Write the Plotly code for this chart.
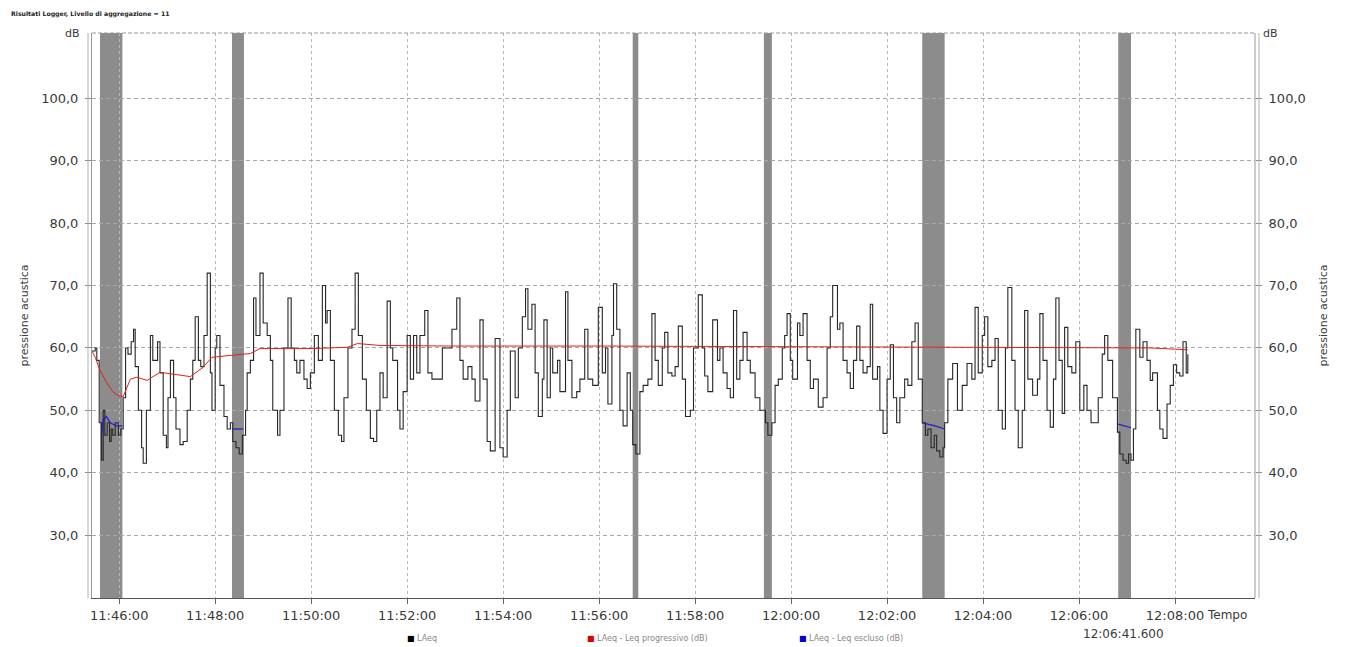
import pandas as pd
import plotly.graph_objects as go

# ---------------- data ----------------
BASE = "2000-01-01 11:46:00"

# black series: seconds from 11:46:00, LAeq (dB)
laeq_t = [-34, -30, -28, -25, -22, -20, -18, -15, -12, -10, -8, -5, -1, 2, 5, 8, 11, 15, 18, 20,
          24, 28, 30, 34, 39, 42, 48, 51, 55, 59, 61, 64, 68, 71, 76, 80, 85, 89, 92, 95,
          99, 102, 106, 110, 114, 116, 120, 122, 126, 131, 135, 139, 142, 146, 150, 154, 158, 160, 164, 168,
          171, 176, 180, 185, 189, 192, 198, 201, 206, 211, 215, 219, 222, 226, 231, 235, 239, 244, 249, 254,
          258, 260, 264, 269, 274, 278, 281, 286, 291, 295, 299, 304, 309, 314, 318, 322, 326, 330, 335, 339,
          342, 348, 351, 355, 360, 364, 368, 372, 376, 382, 386, 391, 398, 404, 410, 416, 422, 426, 430, 436,
          441, 445, 451, 455, 460, 464, 470, 476, 480, 485, 489, 495, 499, 504, 508, 511, 516, 520, 524, 529,
          531, 535, 539, 542, 548, 551, 558, 561, 566, 572, 576, 582, 586, 592, 599, 604, 608, 611, 616, 618,
          622, 626, 630, 635, 639, 642, 646, 651, 655, 661, 666, 670, 674, 679, 682, 686, 691, 695, 699, 704,
          708, 714, 718, 724, 729, 732, 736, 742, 748, 751, 755, 760, 764, 768, 772, 776, 780, 785, 789, 795,
          801, 808, 811, 816, 820, 824, 829, 832, 835, 839, 842, 848, 851, 855, 860, 864, 868, 874, 880, 885,
          889, 892, 898, 901, 905, 910, 914, 918, 922, 926, 930, 935, 939, 942, 948, 951, 955, 960, 964, 968,
          972, 976, 982, 986, 991, 995, 999, 1004, 1008, 1011, 1015, 1019, 1022, 1026, 1030, 1032, 1036, 1042, 1048, 1054,
          1060, 1066, 1070, 1074, 1079, 1082, 1086, 1091, 1095, 1099, 1104, 1108, 1111, 1116, 1120, 1124, 1129, 1132, 1136, 1142,
          1148, 1151, 1155, 1160, 1164, 1168, 1171, 1175, 1179, 1182, 1186, 1191, 1196, 1201, 1206, 1210, 1215, 1220, 1224, 1229,
          1232, 1236, 1242, 1248, 1251, 1255, 1259, 1262, 1265, 1268, 1271, 1276, 1280, 1285, 1289, 1292, 1298, 1301, 1305, 1310,
          1314, 1318, 1322, 1326, 1330, 1334, 1336]
laeq_db = [59.5, 60, 58, 48, 42, 50, 46, 48, 45, 47, 46, 48, 46, 47, 52, 60, 59, 61, 63, 57,
           50, 44, 41.5, 50, 62, 58, 61, 56, 46, 44, 52, 58, 52, 47, 44.5, 45, 50, 55, 58, 65,
           58, 57, 62, 72, 56, 50, 60, 62, 54, 49, 47, 48, 45, 44, 43, 46, 50, 56, 58, 68,
           62, 72, 64, 62, 58, 50, 46, 50, 60, 68, 60, 58, 56, 58, 55, 53.5, 56, 62, 58, 70,
           64, 66, 58, 50, 46, 45, 52, 60, 63, 72, 62, 55, 50, 45.5, 45, 50, 56, 52, 67.5, 60,
           58, 50, 47, 53, 62, 55, 62, 56, 62, 66, 56, 55, 55, 60, 60, 63, 68, 58, 55, 57,
           55, 51.5, 64.5, 55, 45, 43.5, 61.5, 44, 42.5, 50, 59.5, 52, 60, 65, 69.5, 63, 67, 56, 49, 55,
           64.5, 52, 60, 56, 58, 53, 69, 58, 52, 53, 55, 63, 55, 54, 66.5, 56, 60, 51, 62, 70.3,
           63, 50, 47.5, 56, 50, 44.5, 43, 53, 54, 55, 65.5, 58, 54, 60, 62.5, 56, 55.5, 57, 63.5, 55,
           49, 50, 60, 68.5, 60, 55.5, 53, 64.5, 58, 60, 56, 53.5, 52, 66, 55, 58, 62.5, 58, 56, 52,
           50, 48, 46, 48, 54, 55, 60, 62, 65.5, 58, 55, 64, 62, 65.5, 58, 53.5, 55, 50.5, 52, 60,
           65, 70, 63, 64, 58, 56, 53.5, 58, 63.5, 58, 56, 57, 67, 55, 57, 50, 46.3, 55, 60.5, 52,
           48, 52, 55, 54, 61, 64, 55, 48, 46, 47, 44, 46, 43.5, 42.5, 44, 48, 55, 57.5, 50, 54,
           57.5, 55, 66.5, 56, 62, 65, 57, 58, 61.5, 50, 47, 60, 69.7, 58, 50, 44, 50, 66, 55, 52.4,
           55, 65.5, 58, 50, 47.3, 55, 68, 58, 49.5, 63.3, 57, 56, 61, 50, 54, 50, 48, 48, 52, 59,
           62, 58, 52, 46.5, 43, 42, 41.5, 43, 42, 47, 63, 58.5, 61, 58, 54.8, 56, 50, 47, 45.5, 51,
           54, 57.3, 56, 55.5, 61, 56, 59]

# red series: running Leq
run_t = [-34, -30, -24, -15, -8, -2, 5, 14, 22, 35, 51, 68, 89, 105, 116, 139, 164, 176, 201, 242,
         285, 298, 326, 414, 601, 851, 1101, 1289, 1336]
run_db = [59.5, 58.5, 56.4, 54.3, 53, 52.4, 52.2, 55, 55.3, 54.8, 56.1, 55.8, 55.4, 56.9, 58.5, 58.8, 59.1, 59.9, 59.9, 59.9,
          60.1, 60.7, 60.4, 60.3, 60.3, 60.2, 60.1, 60.0, 59.7]

# blue series: Leq of excluded periods (None = gap)
excl_t = [-22, -20, -16, -11, -4, 4, None, 141, 155, None, 1004, 1020, 1032, None, 1249, 1265]
excl_db = [46, 48.5, 49, 48, 47.5, 47.5, None, 47, 47, None, 48, 47.5, 47, None, 47.8, 47.2]

# excluded intervals (seconds from 11:46:00)
band_start = [-24, 141, 642, 806, 1004, 1249]
band_end = [4, 156, 649, 816, 1032, 1265]

y_ticks = [30, 40, 50, 60, 70, 80, 90, 100]

# ---------------- helpers ----------------
base = pd.Timestamp(BASE)


def to_time(secs):
    return [None if s is None else (base + pd.Timedelta(seconds=s)).strftime("%Y-%m-%d %H:%M:%S") for s in secs]


FONT = "DejaVu Sans"
TXT = "#3a3a3a"
W, H = 1337, 639          # page body has an 8px margin
ML, MR, MT, MB = 84, 90, 25, 49
PW, PH = W - ML - MR, H - MT - MB

fig = go.Figure()

fig.add_trace(go.Scatter(x=to_time(laeq_t), y=laeq_db, mode="lines", line_shape="hv",
                         line=dict(color="#262626", width=1.1), name="LAeq", showlegend=False))
fig.add_trace(go.Scatter(x=to_time(excl_t), y=excl_db, mode="lines", connectgaps=False,
                         line=dict(color="#2020c8", width=1.3), name="escluso", showlegend=False))
fig.add_trace(go.Scatter(x=to_time(run_t), y=run_db, mode="lines", yaxis="y2",
                         line=dict(color="#e02020", width=1), name="Leq", showlegend=False))

shapes = []
for s0, s1 in zip(band_start, band_end):
    x0, x1 = to_time([s0, s1])
    shapes.append(dict(type="rect", xref="x", yref="paper", x0=x0, x1=x1, y0=0, y1=1,
                       fillcolor="#8c8c8c", line=dict(width=0), layer="below"))
# top dashed border
shapes.append(dict(type="line", xref="paper", yref="paper", x0=0, x1=1, y0=1, y1=1,
                   line=dict(color="#9a9a9a", width=1, dash="4px,2px")))
# double borders left / right
for xp in (-4 / PW, 1 + 4 / PW):
    shapes.append(dict(type="line", xref="paper", yref="paper", x0=xp, x1=xp, y0=0, y1=1,
                       line=dict(color="#b0b0b0", width=1)))
shapes.append(dict(type="line", xref="paper", yref="paper", x0=1, x1=1, y0=0, y1=1,
                   line=dict(color="#999999", width=1)))

yaxis_common = dict(range=[19.9, 110.5], tickvals=y_ticks, tickformat=".1f",
                    ticks="outside", ticklen=6, tickcolor="#888", ticklabelstandoff=4,
                    tickfont=dict(family=FONT, size=13, color=TXT),
                    zeroline=False)

fig.update_layout(
    width=W, height=H,
    margin=dict(l=ML, r=MR, t=MT, b=MB),
    paper_bgcolor="white", plot_bgcolor="white",
    separators=",.",
    showlegend=False,
    shapes=shapes,
    xaxis=dict(type="date",
               range=to_time([-34, 1420]),
               tick0=to_time([0])[0], dtick=120000, tickformat="%H:%M:%S",
               ticks="outside", ticklen=5, tickcolor="#666",
               showline=True, linecolor="#555", linewidth=1,
               showgrid=True, gridcolor="#b8b8b8", griddash="dot", gridwidth=1,
               tickfont=dict(family=FONT, size=13, color=TXT)),
    yaxis=dict(**yaxis_common, showgrid=True, gridcolor="#a8a8a8", griddash="4px,3px",
               showline=True, linecolor="#999",
               title=dict(text="pressione acustica", font=dict(family=FONT, size=11, color=TXT), standoff=10)),
    yaxis2=dict(**yaxis_common, overlaying="y", side="right", showgrid=False, showline=False,
                title=dict(text="pressione acustica", font=dict(family=FONT, size=11, color=TXT), standoff=14)),
    annotations=[
        dict(text="<b>Risultati Logger, Livello di aggregazione = 11</b>", xref="paper", yref="paper",
             x=-(ML - 1) / PW, y=1 + 19 / PH, xanchor="left", yanchor="middle", showarrow=False,
             font=dict(family=FONT, size=6.2, color="#222")),
        dict(text="dB", xref="paper", yref="paper", x=0, xshift=-10, y=1, xanchor="right", yanchor="middle",
             showarrow=False, font=dict(family=FONT, size=11, color=TXT)),
        dict(text="dB", xref="paper", yref="paper", x=1, xshift=6, y=1, xanchor="left", yanchor="middle",
             showarrow=False, font=dict(family=FONT, size=11, color=TXT)),
        dict(text="Tempo", xref="paper", yref="paper", x=1, xshift=-50, y=0, yshift=-17, xanchor="left",
             yanchor="middle", showarrow=False, font=dict(family=FONT, size=12, color=TXT)),
        dict(text="12:06:41.600", xref="x", yref="paper", x=to_time([1256])[0], y=0, yshift=-36,
             xanchor="center", yanchor="middle", showarrow=False, font=dict(family=FONT, size=12, color=TXT)),
    ],
)

# legend row along the bottom edge
legend_items = [("#000000", "LAeq", 405), ("#e00000", "LAeq - Leq progressivo (dB)", 585),
                ("#0000d0", "LAeq - Leq escluso (dB)", 797)]
for col, label, px in legend_items:
    fig.add_annotation(text="<span style='color:%s'>■</span> %s" % (col, label), xref="paper", yref="paper",
                       x=(px - 8 - ML) / PW, y=0, yshift=-(MB - 2), xanchor="left", yanchor="bottom",
                       showarrow=False, font=dict(family=FONT, size=8, color="#888"))

fig.write_html("out.html")
